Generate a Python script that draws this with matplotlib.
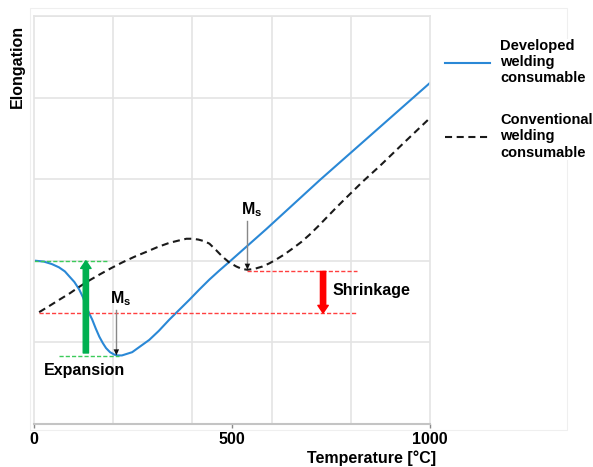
import matplotlib
matplotlib.use("Agg")
import matplotlib.pyplot as plt
from matplotlib.patches import Rectangle

plt.rcParams["font.family"] = ["Liberation Sans", "DejaVu Sans"]
plt.rcParams["font.weight"] = "bold"
plt.rcParams["mathtext.fontset"] = "custom"
plt.rcParams["mathtext.bf"] = "Liberation Sans:bold"
plt.rcParams["mathtext.rm"] = "Liberation Sans:bold"

# values (temperature in degC, elongation in grid units)
dev_temp = [5, 25, 45, 63, 78, 89, 102, 114, 124, 132, 140, 147, 156, 165, 174,
            182, 192, 203, 212, 222, 235, 248, 268, 291, 315, 342, 367, 392,
            418, 443, 468, 494, 587, 722, 1000]
dev_elong = [2.00, 1.99, 1.96, 1.92, 1.87, 1.81, 1.74, 1.65, 1.55, 1.44, 1.35,
             1.28, 1.17, 1.07, 0.99, 0.93, 0.88, 0.85, 0.84, 0.84, 0.86, 0.88,
             0.95, 1.03, 1.14, 1.28, 1.40, 1.52, 1.65, 1.77, 1.88, 1.99, 2.39,
             2.99, 4.18]

conv_temp = [13, 40, 63, 90, 114, 140, 165, 195, 223, 254, 284, 313, 342, 367,
             385, 400, 415, 430, 443, 460, 476, 493, 511, 525, 539, 556, 577,
             595, 613, 633, 653, 675, 696, 717, 739, 765, 790, 830, 873, 935, 1000]
conv_elong = [1.37, 1.45, 1.52, 1.60, 1.68, 1.76, 1.83, 1.91, 1.98, 2.05, 2.11,
              2.17, 2.22, 2.25, 2.27, 2.27, 2.26, 2.24, 2.21, 2.13, 2.05, 1.98,
              1.93, 1.90, 1.89, 1.90, 1.93, 1.97, 2.02, 2.08, 2.15, 2.23, 2.32,
              2.42, 2.53, 2.66, 2.78, 2.97, 3.16, 3.45, 3.75]

series_labels = ["Developed\nwelding\nconsumable", "Conventional\nwelding\nconsumable"]

expansion_top, expansion_bottom = 2.00, 0.83
shrink_top, shrink_bottom = 1.87, 1.36
ms_dev = (208, 0.84)
ms_conv = (539, 1.89)

fig = plt.figure(figsize=(5.93, 4.67), dpi=100)
ax = fig.add_axes([0.0573, 0.0921, 0.6678, 0.8737])

fig.patches.append(Rectangle((0.0506, 0.0792), 0.9056, 0.9036, transform=fig.transFigure,
                             fill=False, edgecolor="#efefef", lw=0.8, zorder=-1))

ax.plot(dev_temp, dev_elong, color="#2a88d6", lw=1.5, label=series_labels[0])
ax.plot(conv_temp, conv_elong, color="#1a1a1a", lw=1.5, ls=(0, (3.4, 2.2)),
        label=series_labels[1])

# expansion marker
green = "#00b050"
ax.plot([0, 190], [expansion_top] * 2, color="#3ccb5a", lw=1, ls=(0, (3, 1.5)))
ax.plot([63, 215], [expansion_bottom] * 2, color="#3ccb5a", lw=1, ls=(0, (3, 1.5)))
ax.annotate("", xy=(131, expansion_top), xytext=(131, expansion_bottom + 0.04),
            arrowprops=dict(arrowstyle="simple,head_width=0.75,head_length=0.55,tail_width=0.38",
                            color=green, mutation_scale=10, shrinkA=0, shrinkB=0))
ax.text(25, 0.66, "Expansion", fontsize=11.5, ha="left", va="center")

# shrinkage marker
ax.plot([13, 815], [shrink_bottom] * 2, color="#ff4040", lw=1, ls=(0, (3, 1.5)))
ax.plot([537, 815], [shrink_top] * 2, color="#ff4040", lw=1, ls=(0, (3, 1.5)))
ax.annotate("", xy=(730, shrink_bottom), xytext=(730, shrink_top),
            arrowprops=dict(arrowstyle="simple,head_width=0.75,head_length=0.55,tail_width=0.38",
                            color="#ff0000", mutation_scale=10, shrinkA=0, shrinkB=0))
ax.text(754, 1.63, "Shrinkage", fontsize=11.5, ha="left", va="center")

# Ms points: grey stem with a small black head
for (mx, my), (tx, ty), top in [(ms_dev, (218, 1.53), 1.40), (ms_conv, (549, 2.63), 2.49)]:
    ax.plot([mx, mx], [top, my + 0.05], color="#888888", lw=1)
    ax.annotate("", xy=(mx, my), xytext=(mx, my + 0.12),
                arrowprops=dict(arrowstyle="-|>,head_width=0.25,head_length=0.55",
                                color="#111111", lw=0, mutation_scale=8,
                                shrinkA=0, shrinkB=0))
    ax.text(tx, ty, r"$\mathbf{M}_\mathbf{s}$", fontsize=11.5, ha="center", va="center")

ax.set_xlim(0, 1000)
ax.set_ylim(0, 5)
ax.set_xticks([0, 500, 1000])
ax.set_xticks(range(0, 1001, 200), minor=True)
ax.set_yticks(range(0, 6))
ax.set_yticklabels([])
ax.xaxis.grid(True, which="minor", color="#e4e4e4", lw=1.2)
ax.yaxis.grid(True, which="major", color="#e4e4e4", lw=1.2)
ax.set_axisbelow(True)
ax.tick_params(axis="x", which="major", length=3, width=1, color="#888888", pad=3, labelsize=11.5)
ax.tick_params(axis="x", which="minor", length=0)
ax.tick_params(axis="y", length=0)
for side in ["left", "top", "right"]:
    ax.spines[side].set_color("#e4e4e4")
    ax.spines[side].set_linewidth(1.2)
ax.spines["bottom"].set_color("#c4c4c4")
ax.spines["bottom"].set_linewidth(1.5)

ax.set_xlabel("Temperature [°C]", fontsize=11.5, fontweight="bold", va="top")
ax.xaxis.set_label_coords(0.853, -0.066)
ax.set_ylabel("Elongation", fontsize=11.5, fontweight="bold")
ax.yaxis.set_label_coords(-0.022, 0.877)

leg = ax.legend(loc="upper left", bbox_to_anchor=(0.7504, 0.9165), bbox_transform=fig.transFigure,
                frameon=True, fontsize=10.5, handlelength=3.1, handletextpad=0.7,
                labelspacing=1.9, borderpad=0, borderaxespad=0, fancybox=False)
leg.get_frame().set_facecolor("white")
leg.get_frame().set_edgecolor("none")
leg.get_frame().set_alpha(1)

fig.savefig("out.png", dpi=100)
